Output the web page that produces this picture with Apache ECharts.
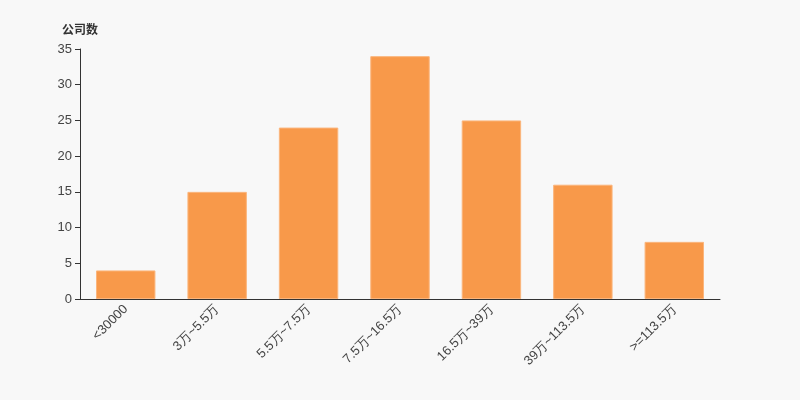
<!DOCTYPE html>
<html><head><meta charset="utf-8">
<script src="https://cdn.jsdelivr.net/npm/echarts@6/dist/echarts.min.js"></script>
<style>html,body{margin:0;padding:0;background:#f8f8f8;}#c{width:800px;height:400px;}</style>
</head><body><div id="c"></div>
<script>
const categories = ['<30000','3万~5.5万','5.5万~7.5万','7.5万~16.5万','16.5万~39万','39万~113.5万','>=113.5万'];
const values = [4, 15, 24, 34, 25, 16, 8];
const yTicks = {min: 0, max: 35, interval: 5};
const chart = echarts.init(document.getElementById('c'));
chart.setOption({
  backgroundColor: '#f8f8f8',
  animation: false,
  grid: {left: 80, right: 80, top: 49, bottom: 101},
  xAxis: {
    type: 'category', data: categories,
    axisLine: {lineStyle: {color: '#333'}},
    axisTick: {lineStyle: {color: '#333'}},
    axisLabel: {rotate: 45, color: '#444', fontSize: 13, interval: 0, fontFamily: 'sans-serif'}
  },
  yAxis: {
    type: 'value', min: yTicks.min, max: yTicks.max, interval: yTicks.interval,
    name: '公司数', nameGap: 14,
    nameTextStyle: {color: '#333', fontWeight: 'bold', fontSize: 12, fontFamily: 'Noto Sans CJK SC'},
    axisLine: {show: true, lineStyle: {color: '#333'}},
    axisTick: {show: true, lineStyle: {color: '#333'}},
    splitLine: {show: false},
    axisLabel: {color: '#444', fontSize: 13}
  },
  series: [{
    type: 'bar', data: values, barWidth: '65%',
    itemStyle: {color: '#f8994a', borderColor: '#fbb57c', borderWidth: 1}
  }]
});
</script></body></html>
